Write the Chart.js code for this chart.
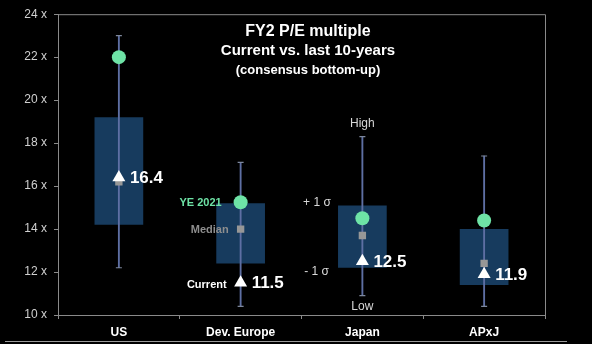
<!DOCTYPE html>
<html>
<head>
<meta charset="utf-8">
<script src="https://cdn.jsdelivr.net/npm/chart.js@4.4.1/dist/chart.umd.min.js"></script>
<style>
  html, body { margin: 0; padding: 0; background: #000; }
  #wrap { width: 592px; height: 344px; position: relative; }
</style>
</head>
<body>
<div id="wrap"><canvas id="peChart"></canvas></div>
<script>
// Datos
const categories = ['US', 'Dev. Europe', 'Japan', 'APxJ'];
const highValues = [23.0, 17.1, 18.3, 17.4];
const lowValues = [12.2, 10.4, 10.9, 10.4];
const plusSigma = [19.2, 15.2, 15.1, 14.0];
const minusSigma = [14.2, 12.4, 12.2, 11.4];
const ye2021 = [22.0, 15.25, 14.5, 14.4];
const medianValues = [16.2, 14.0, 13.7, 12.4];
const currentValues = [16.4, 11.5, 12.5, 11.9];
const yTicks = [10, 12, 14, 16, 18, 20, 22, 24];

const titleLines = ['FY2 P/E multiple', 'Current vs. last 10-years', '(consensus bottom-up)'];

const FONT = "'Liberation Sans', Arial, sans-serif";

// Plugin para marco, títulos y etiquetas
const overlayPlugin = {
    id: 'overlay',
    beforeDraw(chart) {
        const c = chart.ctx;
        c.save();
        c.fillStyle = '#000';
        c.fillRect(0, 0, chart.width, chart.height);
        c.restore();
    },
    afterDraw(chart) {
        const c = chart.ctx;
        const area = chart.chartArea;
        const x = chart.scales.x;
        const y = chart.scales.y;
        c.save();

        // marco superior y derecho
        c.strokeStyle = '#8a8a8a';
        c.lineWidth = 1;
        c.beginPath();
        c.moveTo(area.left, area.top + 0.5);
        c.lineTo(area.right + 0.5, area.top + 0.5);
        c.lineTo(area.right + 0.5, area.bottom);
        c.stroke();

        // línea inferior
        c.strokeStyle = '#9a9a9a';
        c.beginPath();
        c.moveTo(5, 341.5);
        c.lineTo(567, 341.5);
        c.stroke();

        // títulos
        c.fillStyle = '#ffffff';
        c.textAlign = 'center';
        c.textBaseline = 'middle';
        c.font = 'bold 16px ' + FONT;
        c.fillText(titleLines[0], 308, 32);
        c.font = 'bold 15px ' + FONT;
        c.fillText(titleLines[1], 308, 51);
        c.font = 'bold 13px ' + FONT;
        c.fillText(titleLines[2], 308, 70);

        // valores actuales
        c.textAlign = 'left';
        c.font = 'bold 17px ' + FONT;
        currentValues.forEach((v, i) => {
            c.fillText(v.toFixed(1), x.getPixelForValue(i) + 11, y.getPixelForValue(v) + 1);
        });

        // leyenda en Dev. Europe
        const xe = x.getPixelForValue(1);
        c.textAlign = 'right';
        c.font = 'bold 11px ' + FONT;
        c.fillStyle = '#6ee3a6';
        c.fillText('YE 2021', xe - 19, y.getPixelForValue(ye2021[1]) + 1);
        c.fillStyle = '#8e8e8e';
        c.fillText('Median', xe - 12, y.getPixelForValue(medianValues[1]) + 1);
        c.fillStyle = '#ffffff';
        c.fillText('Current', xe - 14, y.getPixelForValue(currentValues[1]) + 2);

        // leyenda en Japan
        const xj = x.getPixelForValue(2);
        const half = 24.5;
        c.font = '12px ' + FONT;
        c.fillStyle = '#d8d8d8';
        c.textAlign = 'center';
        c.fillText('High', xj, y.getPixelForValue(highValues[2]) - 13);
        c.fillText('Low', xj, y.getPixelForValue(lowValues[2]) + 11);
        c.textAlign = 'right';
        c.fillText('+ 1 σ', xj - half - 7, y.getPixelForValue(plusSigma[2]) - 3);
        c.fillText('- 1 σ', xj - half - 9, y.getPixelForValue(minusSigma[2]) + 4);

        c.restore();
    }
};

function initPeChart() {
    const ctx = document.getElementById('peChart').getContext('2d');
    new Chart(ctx, {
        type: 'bar',
        data: {
            labels: categories,
            datasets: [
                {
                    type: 'line',
                    label: 'Current',
                    data: currentValues,
                    showLine: false,
                    pointStyle: 'triangle',
                    pointRadius: 7.5,
                    pointBackgroundColor: '#ffffff',
                    pointBorderWidth: 0,
                    order: 0
                },
                {
                    type: 'line',
                    label: 'Median',
                    data: medianValues,
                    showLine: false,
                    pointStyle: 'rect',
                    pointRadius: 5.2,
                    pointBackgroundColor: '#979797',
                    pointBorderWidth: 0,
                    order: 1
                },
                {
                    type: 'line',
                    label: 'YE 2021',
                    data: ye2021,
                    showLine: false,
                    pointStyle: 'circle',
                    pointRadius: 7,
                    pointBackgroundColor: '#6ee3a6',
                    pointBorderWidth: 0,
                    order: 2
                },
                {
                    type: 'line',
                    label: 'High',
                    data: highValues,
                    showLine: false,
                    pointStyle: 'line',
                    pointRadius: 3,
                    pointBorderColor: '#7d879c',
                    pointBorderWidth: 1.2,
                    order: 3
                },
                {
                    type: 'line',
                    label: 'Low',
                    data: lowValues,
                    showLine: false,
                    pointStyle: 'line',
                    pointRadius: 3,
                    pointBorderColor: '#7d879c',
                    pointBorderWidth: 1.2,
                    order: 3
                },
                {
                    label: 'Rango',
                    data: lowValues.map((v, i) => [v, highValues[i]]),
                    backgroundColor: '#5e6fa3',
                    barThickness: 1.2,
                    grouped: false,
                    order: 4
                },
                {
                    label: '± 1 σ',
                    data: minusSigma.map((v, i) => [v, plusSigma[i]]),
                    backgroundColor: '#173b5e',
                    barPercentage: 0.4,
                    categoryPercentage: 1,
                    grouped: false,
                    order: 5
                }
            ]
        },
        options: {
            responsive: false,
            animation: false,
            layout: { padding: { left: 0, top: 11, right: 47, bottom: 0 } },
            plugins: {
                legend: { display: false },
                tooltip: { enabled: false }
            },
            scales: {
                x: {
                    offset: true,
                    afterFit(scale) { scale.height = 29; },
                    grid: {
                        offset: true,
                        drawOnChartArea: false,
                        drawTicks: true,
                        tickLength: 4,
                        color: '#8a8a8a'
                    },
                    border: { display: true, color: '#8a8a8a', width: 1 },
                    ticks: {
                        color: '#ffffff',
                        font: { family: FONT, size: 12, weight: 'bold' },
                        padding: 6
                    }
                },
                y: {
                    min: yTicks[0],
                    max: yTicks[yTicks.length - 1],
                    afterFit(scale) { scale.width = 58; },
                    afterBuildTicks(scale) {
                        scale.ticks = yTicks.map(v => ({ value: v }));
                    },
                    grid: {
                        drawOnChartArea: false,
                        drawTicks: true,
                        tickLength: 4,
                        color: '#8a8a8a'
                    },
                    border: { display: true, color: '#8a8a8a', width: 1 },
                    ticks: {
                        color: '#d0d0d0',
                        font: { family: FONT, size: 12 },
                        padding: 7,
                        callback: v => v + ' x'
                    }
                }
            }
        },
        plugins: [overlayPlugin]
    });
}

const canvasEl = document.getElementById('peChart');
canvasEl.width = 592;
canvasEl.height = 344;
canvasEl.style.width = '592px';
canvasEl.style.height = '344px';
initPeChart();
</script>
</body>
</html>
